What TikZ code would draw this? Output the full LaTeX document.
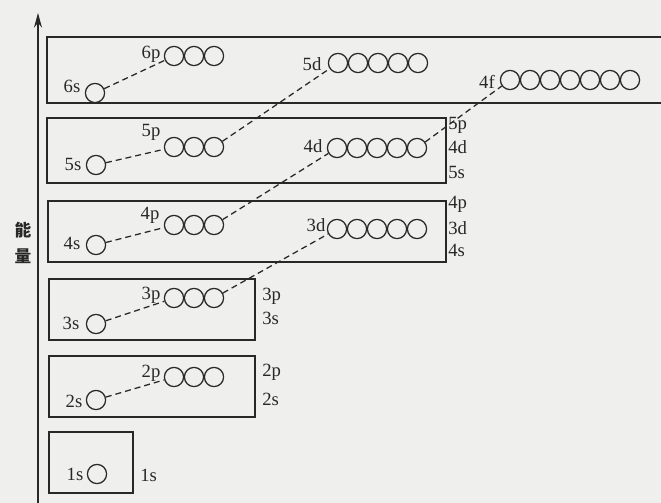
\documentclass[tikz,border=0pt]{standalone}
\usepackage{fontspec}
\setmainfont{Liberation Serif}
\newfontfamily\cjk{Noto Sans CJK SC}
\usetikzlibrary{arrows.meta}
\definecolor{paper}{RGB}{239,239,237}
\definecolor{ink}{RGB}{40,40,40}
\begin{document}
\begin{tikzpicture}[x=0.75pt,y=-0.75pt,
  orb/.style={circle,draw=ink,line width=0.95pt,minimum size=14.4pt,inner sep=0pt},
  lbl/.style={font=\fontsize{14}{14}\selectfont,text=ink,inner sep=0pt},
  rlbl/.style={lbl,anchor=west},
  conn/.style={draw=ink,line width=0.95pt,dash pattern=on 4.5pt off 3pt},
  shell/.style={draw=ink,line width=1.3pt},
  axisline/.style={draw=ink,line width=0.9pt,-{Stealth[length=11pt,width=6pt]}},
  cjklbl/.style={font=\cjk\bfseries\fontsize{12.5}{12.5}\selectfont,text=ink,inner sep=0pt}]

\fill[paper] (0,0) rectangle (661,503);
\useasboundingbox (0,0) rectangle (661,503);
\clip (0,0) rectangle (661,503);

% energy axis
\coordinate (axbot) at (38,510);
\coordinate (axtop) at (38,13);
\draw[axisline] (axbot) -- (axtop);
\node[cjklbl] (e1) at (23,230) {能};
\node[cjklbl] (e2) at (23,256) {量};

% shells
\draw[shell] (720,37) -- (47,37) -- (47,103) -- (720,103);
\draw[shell] (47,118) rectangle (446,183);
\draw[shell] (48,201) rectangle (446,262);
\draw[shell] (49,279) rectangle (255,340);
\draw[shell] (49,356) rectangle (255,417);
\draw[shell] (49,432) rectangle (133,493);

% s orbitals
\node[orb] (s6) at (95,93) {};
\node[orb] (s5) at (96,165) {};
\node[orb] (s4) at (96,245) {};
\node[orb] (s3) at (96,324) {};
\node[orb] (s2) at (96,400) {};
\node[orb] (s1) at (97,474) {};

% p orbitals
\foreach \i in {1,2,3} {
  \node[orb] (p6-\i) at ({154+20*\i},56) {};
  \node[orb] (p5-\i) at ({154+20*\i},147) {};
  \node[orb] (p4-\i) at ({154+20*\i},225) {};
  \node[orb] (p3-\i) at ({154+20*\i},298) {};
  \node[orb] (p2-\i) at ({154+20*\i},377) {};
}
% d orbitals
\foreach \i in {1,...,5} {
  \node[orb] (d5-\i) at ({318+20*\i},63) {};
  \node[orb] (d4-\i) at ({317+20*\i},148) {};
  \node[orb] (d3-\i) at ({317+20*\i},229) {};
}
% f orbitals
\foreach \i in {1,...,7} {
  \node[orb] (f4-\i) at ({490+20*\i},80) {};
}

% labels beside orbitals
\node[lbl] (t6s) at (72,86) {6s};
\node[lbl] (t6p) at (151,54) {6p};
\node[lbl] (t5s) at (73,164) {5s};
\node[lbl] (t5p) at (151,132) {5p};
\node[lbl] (t4s) at (72,243) {4s};
\node[lbl] (t4p) at (150,215) {4p};
\node[lbl] (t3s) at (71,323) {3s};
\node[lbl] (t3p) at (151,295) {3p};
\node[lbl] (t2s) at (74,401) {2s};
\node[lbl] (t2p) at (151,373) {2p};
\node[lbl] (t1s) at (75,474) {1s};
\node[lbl] (t5d) at (312,64) {5d};
\node[lbl] (t4d) at (313,146) {4d};
\node[lbl] (t3d) at (316,225) {3d};
\node[lbl] (t4f) at (487,82) {4f};

% labels right of shells
\node[rlbl] (r5p) at (448,125) {5p};
\node[rlbl] (r4d) at (448,147) {4d};
\node[rlbl] (r5s) at (448,172) {5s};
\node[rlbl] (r4p) at (448,204) {4p};
\node[rlbl] (r3d) at (448,228) {3d};
\node[rlbl] (r4s) at (448,250) {4s};
\node[rlbl] (r3p) at (262,296) {3p};
\node[rlbl] (r3s) at (262,318) {3s};
\node[rlbl] (r2p) at (262,372) {2p};
\node[rlbl] (r2s) at (262,399) {2s};
\node[rlbl] (r1s) at (140,475) {1s};

% filling order connectors
\draw[conn] (s6) -- (p6-1);
\draw[conn] (s5) -- (p5-1);
\draw[conn] (p5-3) -- (d5-1);
\draw[conn] (s4) -- (p4-1);
\draw[conn] (p4-3) -- (d4-1);
\draw[conn] (d4-5) -- (f4-1);
\draw[conn] (s3) -- (p3-1);
\draw[conn] (p3-3) -- (d3-1);
\draw[conn] (s2) -- (p2-1);
\end{tikzpicture}
\end{document}
